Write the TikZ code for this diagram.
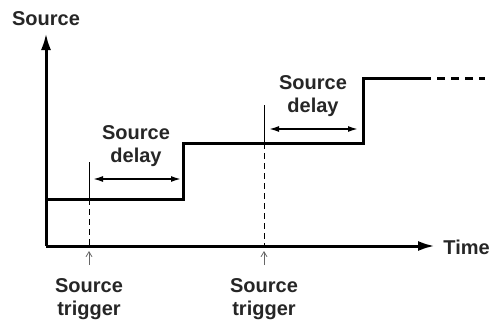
\documentclass[tikz,border=0pt]{standalone}
\usepackage{fontspec}
\setmainfont{Liberation Sans}
\usetikzlibrary{arrows.meta,positioning}

\begin{document}
\begin{tikzpicture}[
				x=0.5pt, y=-0.5pt,
				every node/.style={
						font=\bfseries\fontsize{10}{11.5}\selectfont,
						text=black!85,
						align=center,
						inner sep=0pt
					},
				axis/.style={line width=1.5pt, -{Latex[length=8.5pt,width=5pt]}},
				signal/.style={line width=1.5pt},
				delayarrow/.style={line width=0.8pt, {Latex[length=5pt,width=3pt]}-{Latex[length=5pt,width=3pt]}},
				marker/.style={line width=0.5pt},
				pointer/.style={line width=0.4pt, black!60, -{Straight Barb[length=2.5pt,width=3pt]}}
			]
			\useasboundingbox (0,0) rectangle (494,322);

			% axes
			\coordinate (origen) at (46,246);
			\coordinate (ytop) at (46,33);
			\coordinate (xend) at (435,246);
			\draw[axis] (origen) -- (ytop);
			\draw[axis] (origen) -- (xend);
			\node[anchor=base] (srclabel) at (46,25) {Source};
			\node[anchor=base west] (timelabel) at (443,254) {Time};

			% signal levels
			\coordinate (lvlA) at (46,199);
			\coordinate (stepA) at (183,199);
			\coordinate (stepAt) at (183,143);
			\coordinate (stepB) at (363,143);
			\coordinate (stepBt) at (363,78);
			\coordinate (lvlC) at (423,78);
			\coordinate (lvlCend) at (485,78);
			\draw[signal] (lvlA) -- (stepA) -- (stepAt) -- (stepB) -- (stepBt) -- (lvlC);
			\draw[signal, dash pattern=on 4pt off 3pt] (lvlC) -- (lvlCend);

			% trigger markers
			\coordinate (trigAtop) at (89,162);
			\coordinate (trigAlvl) at (89,199);
			\coordinate (trigAaxis) at (89,246);
			\coordinate (trigBtop) at (264,105);
			\coordinate (trigBlvl) at (264,143);
			\coordinate (trigBaxis) at (264,246);
			\draw[marker] (trigAtop) -- (trigAlvl);
			\draw[marker, dash pattern=on 3pt off 2pt] (trigAlvl) -- (trigAaxis);
			\draw[marker] (trigBtop) -- (trigBlvl);
			\draw[marker, dash pattern=on 3pt off 2pt] (trigBlvl) -- (trigBaxis);

			\node[anchor=north] (trigA) at (89,278) {Source\\trigger};
			\node[anchor=north] (trigB) at (264,278) {Source\\trigger};
			\coordinate (ptrA) at (89,251);
			\coordinate (ptrB) at (264,251);
			\draw[pointer] ([yshift=6.5pt]trigA.north) -- (ptrA);
			\draw[pointer] ([yshift=6.5pt]trigB.north) -- (ptrB);

			% delays
			\coordinate (delAs) at (93,179);
			\coordinate (delAe) at (181,179);
			\coordinate (delBs) at (269,129);
			\coordinate (delBe) at (358,129);
			\draw[delayarrow] (delAs) -- (delAe);
			\draw[delayarrow] (delBs) -- (delBe);
			\node[anchor=north] (delayA) at (136,125) {Source\\delay};
			\node[anchor=north] (delayB) at (313,75) {Source\\delay};
		\end{tikzpicture}
\end{document}
